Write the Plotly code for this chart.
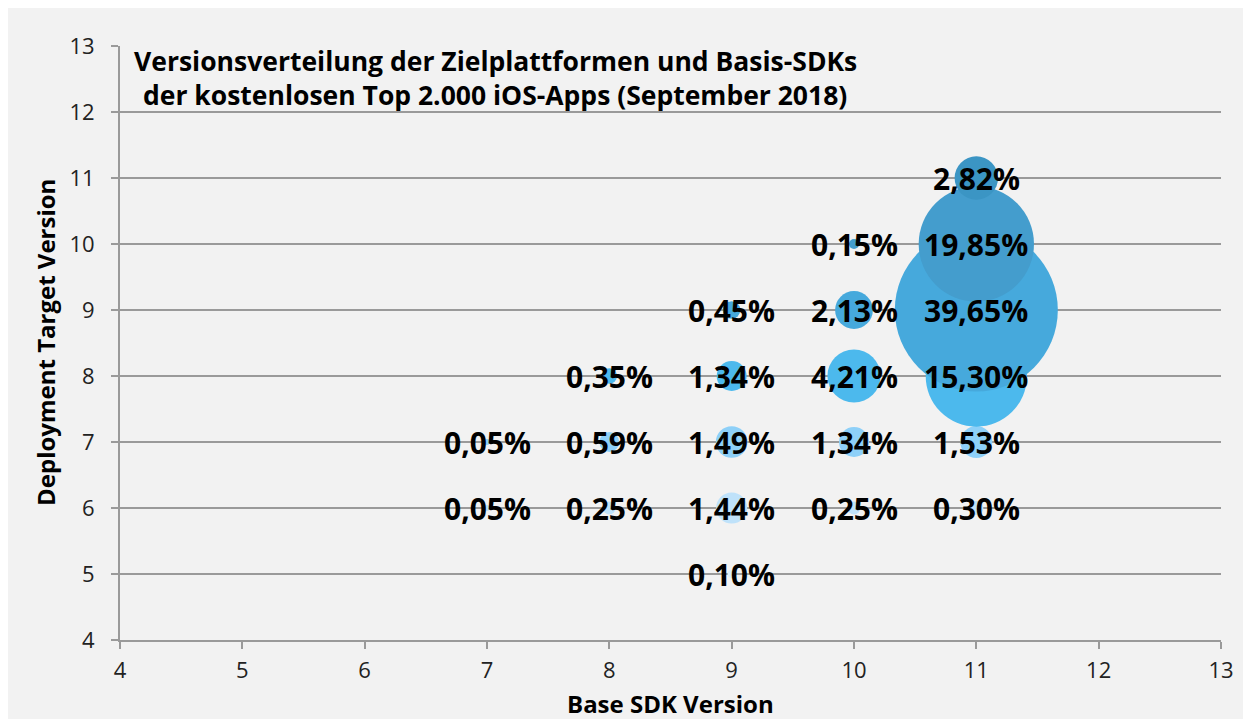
import plotly.graph_objects as go

# Data: one series per deployment target version
targets = [5, 6, 7, 8, 9, 10, 11]
sdk_by_target = {
    5: [9],
    6: [7, 8, 9, 10, 11],
    7: [7, 8, 9, 10, 11],
    8: [8, 9, 10, 11],
    9: [9, 10, 11],
    10: [10, 11],
    11: [11],
}
share_by_target = {
    5: [0.10],
    6: [0.05, 0.25, 1.44, 0.25, 0.30],
    7: [0.05, 0.59, 1.49, 1.34, 1.53],
    8: [0.35, 1.34, 4.21, 15.30],
    9: [0.45, 2.13, 39.65],
    10: [0.15, 19.85],
    11: [2.82],
}
colors = {
    5: "#d9effc",
    6: "#bfe2fa",
    7: "#8ed0f8",
    8: "#4cb9ed",
    9: "#46a9dc",
    10: "#449dcd",
    11: "#3b95c4",
}
x_ticks = list(range(4, 14))
y_ticks = list(range(4, 14))

FONT = "Open Sans"
OFF = 8  # page body margin offset
W, H = 1251 - OFF, 719 - OFF
L, R, T, B = 120 - OFF, 30, 46 - OFF, 79

max_share = max(max(v) for v in share_by_target.values())
max_diam = 163
sizeref = 2.0 * max_share / (max_diam ** 2)

fig = go.Figure()
for t in targets:
    xs = sdk_by_target[t]
    ys = [t] * len(xs)
    fig.add_trace(go.Scatter(
        x=xs, y=ys, mode="markers",
        marker=dict(size=share_by_target[t], sizemode="area", sizeref=sizeref,
                    color=colors[t], line=dict(width=0), opacity=1),
        hoverinfo="skip", showlegend=False,
    ))

pw = W - L - R
ph = H - T - B
def px_x(p):
    return (p - OFF - L) / pw
def px_y(p):
    return 1 - (p - OFF - T) / ph

annotations = []
# value labels on top of all bubbles
for t in targets:
    for x, v in zip(sdk_by_target[t], share_by_target[t]):
        annotations.append(dict(
            x=x, y=t, xref="x", yref="y", showarrow=False,
            text="<b>" + f"{v:.2f}".replace(".", ",") + "%</b>",
            xanchor="center", yanchor="middle", yshift=0,
            font=dict(family=FONT, size=30, color="#000000"),
        ))

axis_common = dict(
    showline=True, linecolor="#9a9a9a", linewidth=2,
    ticks="outside", ticklen=7, tickwidth=2, tickcolor="#9a9a9a",
    tickfont=dict(family=FONT, size=22, color="#222222"),
    zeroline=False, tickmode="array",
)
fig.update_xaxes(range=[4, 13], tickvals=x_ticks, showgrid=False,
                 ticklabelstandoff=3, **axis_common)
fig.update_yaxes(range=[4, 13], tickvals=y_ticks, showgrid=True,
                 gridcolor="#9a9a9a", gridwidth=2, ticklabelstandoff=12,
                 **axis_common)

annotations += [
    dict(text="<b>Versionsverteilung der Zielplattformen und Basis-SDKs</b>",
         x=px_x(495), y=px_y(61), xref="paper", yref="paper",
         xanchor="center", yanchor="middle", showarrow=False,
         font=dict(family=FONT, size=26.5, color="#000000")),
    dict(text="<b>der kostenlosen Top 2.000 iOS-Apps (September 2018)</b>",
         x=px_x(495), y=px_y(95), xref="paper", yref="paper",
         xanchor="center", yanchor="middle", showarrow=False,
         font=dict(family=FONT, size=26.5, color="#000000")),
    dict(text="<b>Base SDK Version</b>",
         x=0.5, y=px_y(703), xref="paper", yref="paper",
         xanchor="center", yanchor="middle", showarrow=False,
         font=dict(family=FONT, size=24, color="#000000")),
    dict(text="<b>Deployment Target Version</b>",
         x=px_x(45), y=0.5, xref="paper", yref="paper", textangle=-90,
         xanchor="center", yanchor="middle", showarrow=False,
         font=dict(family=FONT, size=24, color="#000000")),
]

fig.update_layout(
    width=W, height=H,
    margin=dict(l=L, r=R, t=T, b=B, pad=0),
    paper_bgcolor="#f2f2f2", plot_bgcolor="#f2f2f2",
    annotations=annotations,
)

fig.write_html("out.html")
